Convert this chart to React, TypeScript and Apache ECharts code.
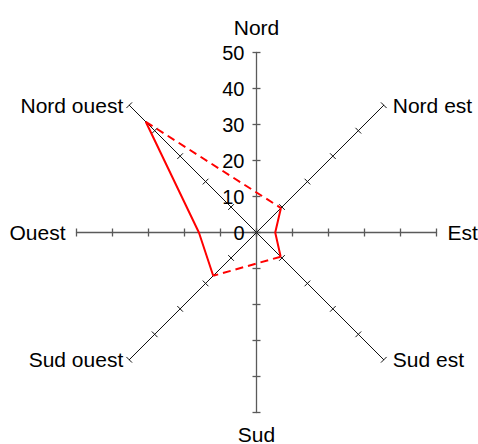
import React, { useEffect, useRef } from "react";
import * as echarts from "echarts";

// Wind directions (clockwise from north)
const directions = ["Nord", "Nord est", "Est", "Sud est", "Sud", "Sud ouest", "Ouest", "Nord ouest"];
// Bearing of each direction in degrees
const bearings = [0, 45, 90, 135, 180, 225, 270, 315];
// Measured values (null = no measurement, bridged with a dashed line)
const values: (number | null)[] = [null, 9.6, 5.2, 9.5, null, 17, 16, 43.5];
// Radial scale
const radialMin = 0;
const radialMax = 50;
const radialStep = 10;

const FONT = "'Liberation Sans', Arial, sans-serif";
const CENTER = [256.5, 232.5];
const RADIUS = 180;

export default function App() {
  const ref = useRef<HTMLDivElement>(null);

  useEffect(() => {
    if (!ref.current) return;
    const chart = echarts.init(ref.current, null, { renderer: "svg" });

    const polar: any[] = [];
    const angleAxis: any[] = [];
    const radiusAxis: any[] = [];

    directions.forEach((name, i) => {
      const cardinal = i % 2 === 0;
      const col = cardinal ? "#5a5a5a" : "#111";
      const width = cardinal ? 1.3 : 1;
      const rightSide = bearings[i] > 0 && bearings[i] < 180;
      let nameGap = 11;
      let padding: number[] = [0, 0, 0, 0];
      if (i === 0) nameGap = 15;
      if (!cardinal) {
        nameGap = 0;
        padding = rightSide ? [0, 0, 9, 9] : [0, 6, 9, 0];
      }
      [1, -1].forEach((side) => {
        const k = polar.length;
        polar.push({ center: CENTER, radius: RADIUS });
        angleAxis.push({
          polarIndex: k,
          type: "value",
          min: 0,
          max: 360,
          startAngle: 90 - bearings[i],
          clockwise: true,
          show: false,
        });
        radiusAxis.push({
          polarIndex: k,
          type: "value",
          min: radialMin,
          max: radialMax,
          interval: radialStep,
          axisLine: { show: side === 1, lineStyle: { color: col, width } },
          axisTick: { show: true, length: 4 * side, lineStyle: { color: col, width } },
          axisLabel: {
            show: i === 0 && side === 1,
            margin: 12,
            fontSize: 20,
            fontFamily: FONT,
            color: "#000",
          },
          splitLine: { show: false },
          splitArea: { show: false },
          name: side === 1 ? name : "",
          nameLocation: "end",
          nameGap,
          nameTextStyle: { fontSize: 21, fontFamily: FONT, color: "#000", padding },
        });
      });
    });

    // polar 0 has startAngle 90 (north up), so bearings map directly
    const toItem = (v: number | null, i: number) => (v === null ? ["-", bearings[i]] : [v, bearings[i]]);

    // Bridges across missing values
    const n = values.length;
    const bridges: any[][] = [];
    values.forEach((v, i) => {
      if (v !== null) return;
      let p = (i - 1 + n) % n;
      while (values[p] === null) p = (p - 1 + n) % n;
      let q = (i + 1) % n;
      while (values[q] === null) q = (q + 1) % n;
      bridges.push([toItem(values[p], p), toItem(values[q], q)]);
    });

    const series: any[] = [
      {
        type: "line",
        coordinateSystem: "polar",
        polarIndex: 0,
        data: values.map((v, i) => toItem(v, i)),
        symbol: "none",
        connectNulls: false,
        clip: false,
        lineStyle: { color: "#ff0000", width: 2 },
        z: 10,
      },
      ...bridges.map((b) => ({
        type: "line",
        coordinateSystem: "polar",
        polarIndex: 0,
        data: b,
        symbol: "none",
        clip: false,
        lineStyle: { color: "#ff0000", width: 2, type: [8, 5] },
        z: 10,
      })),
    ];

    chart.setOption({
      animation: false,
      polar,
      angleAxis,
      radiusAxis,
      series,
    });

    return () => chart.dispose();
  }, []);

  return (
    <div
      ref={ref}
      style={{ position: "fixed", left: 0, top: 0, width: 478, height: 444, background: "#fff" }}
    />
  );
}
